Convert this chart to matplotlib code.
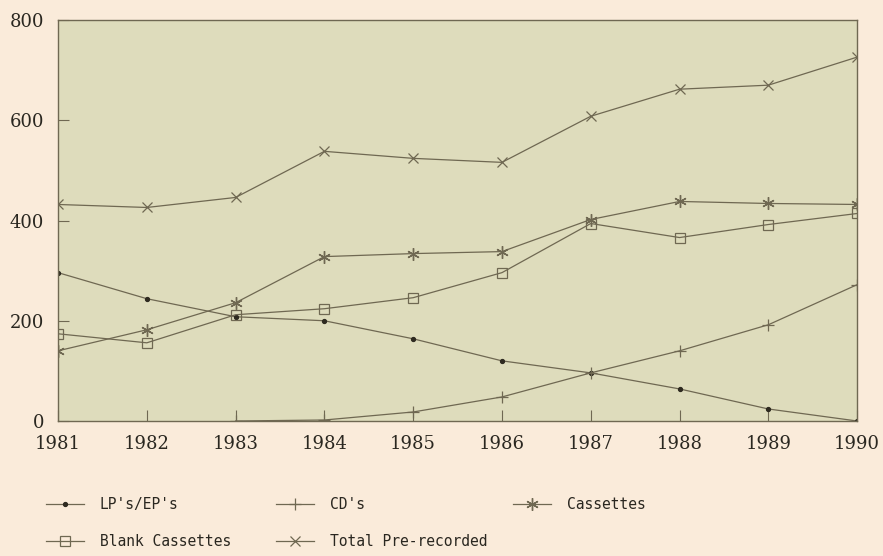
import matplotlib.pyplot as plt
import numpy as np

years = [1981, 1982, 1983, 1984, 1985, 1986, 1987, 1988, 1989, 1990]

lps_eps = [296, 244, 208, 200, 164, 120, 96, 64, 24, 0]
cds = [np.nan, np.nan, 0, 2, 18, 48, 96, 140, 192, 272]
cassettes = [140, 182, 236, 328, 334, 338, 402, 438, 434, 432]
blank_cassettes = [174, 156, 212, 224, 246, 296, 394, 366, 392, 414]
total_prerecorded = [432, 426, 446, 538, 524, 516, 608, 662, 670, 726]

y_ticks = [0, 200, 400, 600, 800]


def main():
    fig = plt.figure(figsize=(8.83, 5.56), dpi=100, facecolor='#faebda')
    ax = fig.add_axes([0.0657, 0.2428, 0.905, 0.7212])
    ax.set_facecolor('#dedcbc')

    line_col = '#6f6852'
    kw = dict(color=line_col, linewidth=0.9)

    h_lp, = ax.plot(years, lps_eps, marker='o', markersize=2.8,
                    markerfacecolor='#2e2a20', markeredgecolor='#2e2a20',
                    label="LP's/EP's", **kw)
    h_cd, = ax.plot(years, cds, marker='+', markersize=9,
                    markeredgewidth=0.9, label="CD's", **kw)
    h_cas, = ax.plot(years, cassettes, marker=(6, 2, 0), markersize=9,
                     markeredgewidth=1.0, label='Cassettes', **kw)
    h_blank, = ax.plot(years, blank_cassettes, marker='s', markersize=7,
                       markerfacecolor='none', markeredgewidth=0.9,
                       label='Blank Cassettes', **kw)
    h_tot, = ax.plot(years, total_prerecorded, marker='x', markersize=7,
                     markeredgewidth=0.9, label='Total Pre-recorded', **kw)

    ax.set_xlim(years[0], years[-1])
    ax.set_ylim(0, 800)
    ax.set_xticks(years)
    ax.set_yticks(y_ticks)
    ax.tick_params(direction='in', length=8, width=0.8, colors=line_col,
                   labelcolor='#2a2720', labelsize=13)
    ax.tick_params(axis='y', pad=10)
    ax.tick_params(axis='x', pad=10)
    for lbl in ax.get_xticklabels() + ax.get_yticklabels():
        lbl.set_family('DejaVu Serif')
    for sp in ax.spines.values():
        sp.set_color(line_col)
        sp.set_linewidth(1.0)

    # legend in three columns along the bottom
    leg_kw = dict(frameon=False, handlelength=2.6, handletextpad=1.1,
                  labelspacing=1.5, loc='upper left',
                  prop={'family': 'DejaVu Sans Mono', 'size': 10.5},
                  labelcolor='#2a2720')
    fig.legend(handles=[h_lp, h_blank], bbox_to_anchor=(0.037, 0.13), **leg_kw)
    fig.legend(handles=[h_cd, h_tot], bbox_to_anchor=(0.298, 0.13), **leg_kw)
    fig.legend(handles=[h_cas], bbox_to_anchor=(0.566, 0.13), **leg_kw)

    fig.savefig('out.png', dpi=100, facecolor=fig.get_facecolor())


if __name__ == '__main__':
    main()
